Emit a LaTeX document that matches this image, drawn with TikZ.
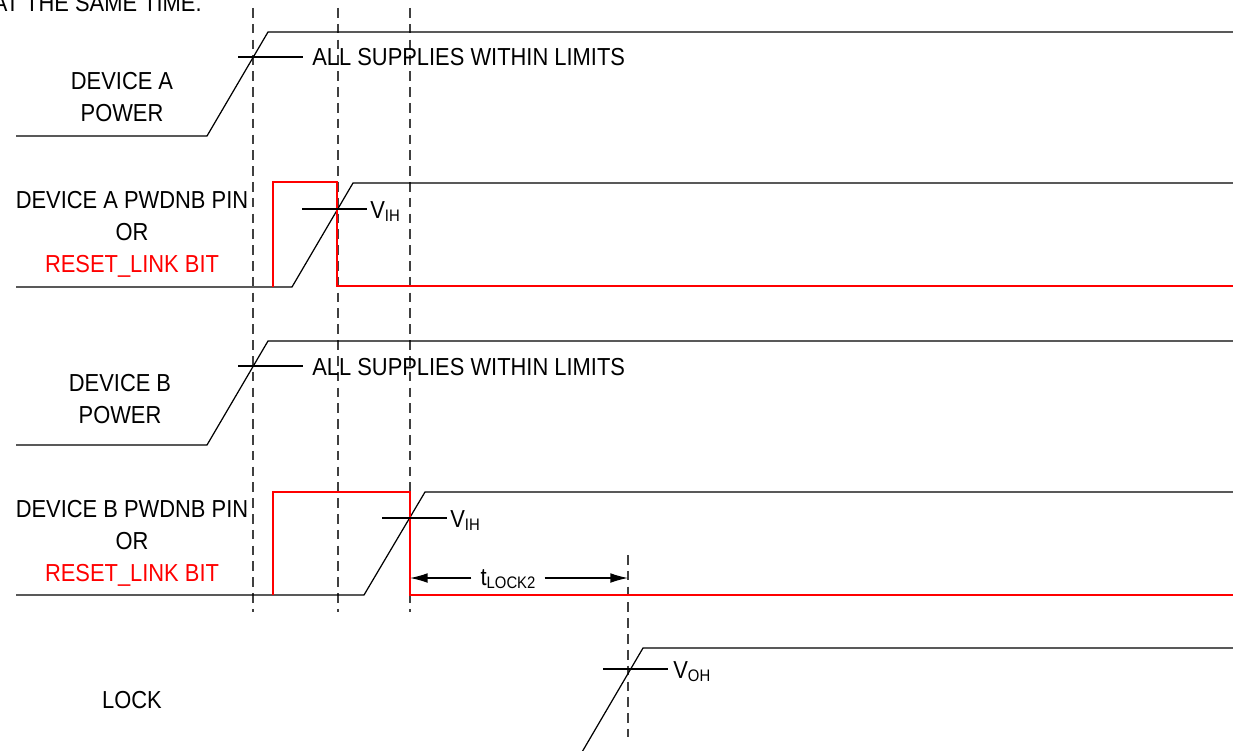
\documentclass[tikz,border=0pt]{standalone}
\usepackage{fontspec}
\setmainfont{Liberation Sans}[FakeStretch=0.89]
\usetikzlibrary{arrows.meta}

\newcommand{\lvl}[2]{#1\raisebox{-0.3ex}{\fontsize{9.5}{10}\selectfont #2}}

\begin{document}
\begin{tikzpicture}[x = 0.02cm, y = -0.02cm,
  wave/.style = {line width = 0.7pt, black},
  rst/.style = {line width = 1.1pt, red},
  guide/.style = {line width = 0.6pt, black!75, dash pattern = on 5.5pt off 3.5pt},
  lbl/.style = {font = \fontsize{14}{18.3}\selectfont, align = center, inner sep = 0pt},
  arr/.style = {line width = 0.7pt, -{Latex[length = 10pt, width = 5.5pt]}}]

\useasboundingbox (0,0) rectangle (1233,750);
\clip (0,0) rectangle (1233,750);

\node [lbl, anchor = base east] (title) at (202,12) {AT THE SAME TIME.};

\draw [guide] (253,8) -- (253,612);
\draw [guide] (338,8) -- (338,612);
\draw [guide] (410,8) -- (410,612);
\draw [guide] (628,555) -- (628,737);

% device A power
\node [lbl, anchor = north] (pwrA) at (122,72) {DEVICE A\\POWER};
\draw [wave] (16,136) -- (207,136) -- (268,32) -- (1233,32);
\draw [wave] (238,57) -- (303,57);
\node [lbl, anchor = base west] (limA) at (312,66) {ALL SUPPLIES WITHIN LIMITS};

% device A pwdnb
\node [lbl, anchor = north] (pinA) at (132,191) {DEVICE A PWDNB PIN\\OR\\\textcolor{red}{RESET\_LINK BIT}};
\draw [wave] (16,287) -- (292,287) -- (353,183) -- (1233,183);
\draw [rst] (273,287) -- (273,182) -- (337,182) -- (337,286) -- (1233,286);
\draw [wave] (302,209) -- (367,209);
\node [lbl, anchor = base west] (vihA) at (370,218) {\lvl{V}{IH}};

% device B power
\node [lbl, anchor = north] (pwrB) at (120,374) {DEVICE B\\POWER};
\draw [wave] (16,445) -- (207,445) -- (268,341) -- (1233,341);
\draw [wave] (238,366) -- (303,366);
\node [lbl, anchor = base west] (limB) at (312,375) {ALL SUPPLIES WITHIN LIMITS};

% device B pwdnb
\node [lbl, anchor = north] (pinB) at (132,500) {DEVICE B PWDNB PIN\\OR\\\textcolor{red}{RESET\_LINK BIT}};
\draw [wave] (16,595) -- (364,595) -- (425,492) -- (1233,492);
\draw [rst] (273,595) -- (273,492) -- (410,492) -- (410,595) -- (1233,595);
\draw [wave] (382,518) -- (447,518);
\node [lbl, anchor = base west] (vihB) at (450,527) {\lvl{V}{IH}};

\coordinate (lkL) at (410,578);
\coordinate (lkR) at (628,578);
\node [lbl, anchor = base, inner xsep = 5pt] (tlk) at (508,585) {\lvl{t}{LOCK2}};
\draw [arr] (tlk.west |- lkL) -- (lkL);
\draw [arr] (tlk.east |- lkR) -- (lkR);

% lock
\node [lbl, anchor = north] (lock) at (132,691) {LOCK};
\draw [wave] (575,764) -- (643,648) -- (1233,648);
\draw [wave] (603,669) -- (668,669);
\node [lbl, anchor = base west] (voh) at (673,678) {\lvl{V}{OH}};

\end{tikzpicture}
\end{document}
